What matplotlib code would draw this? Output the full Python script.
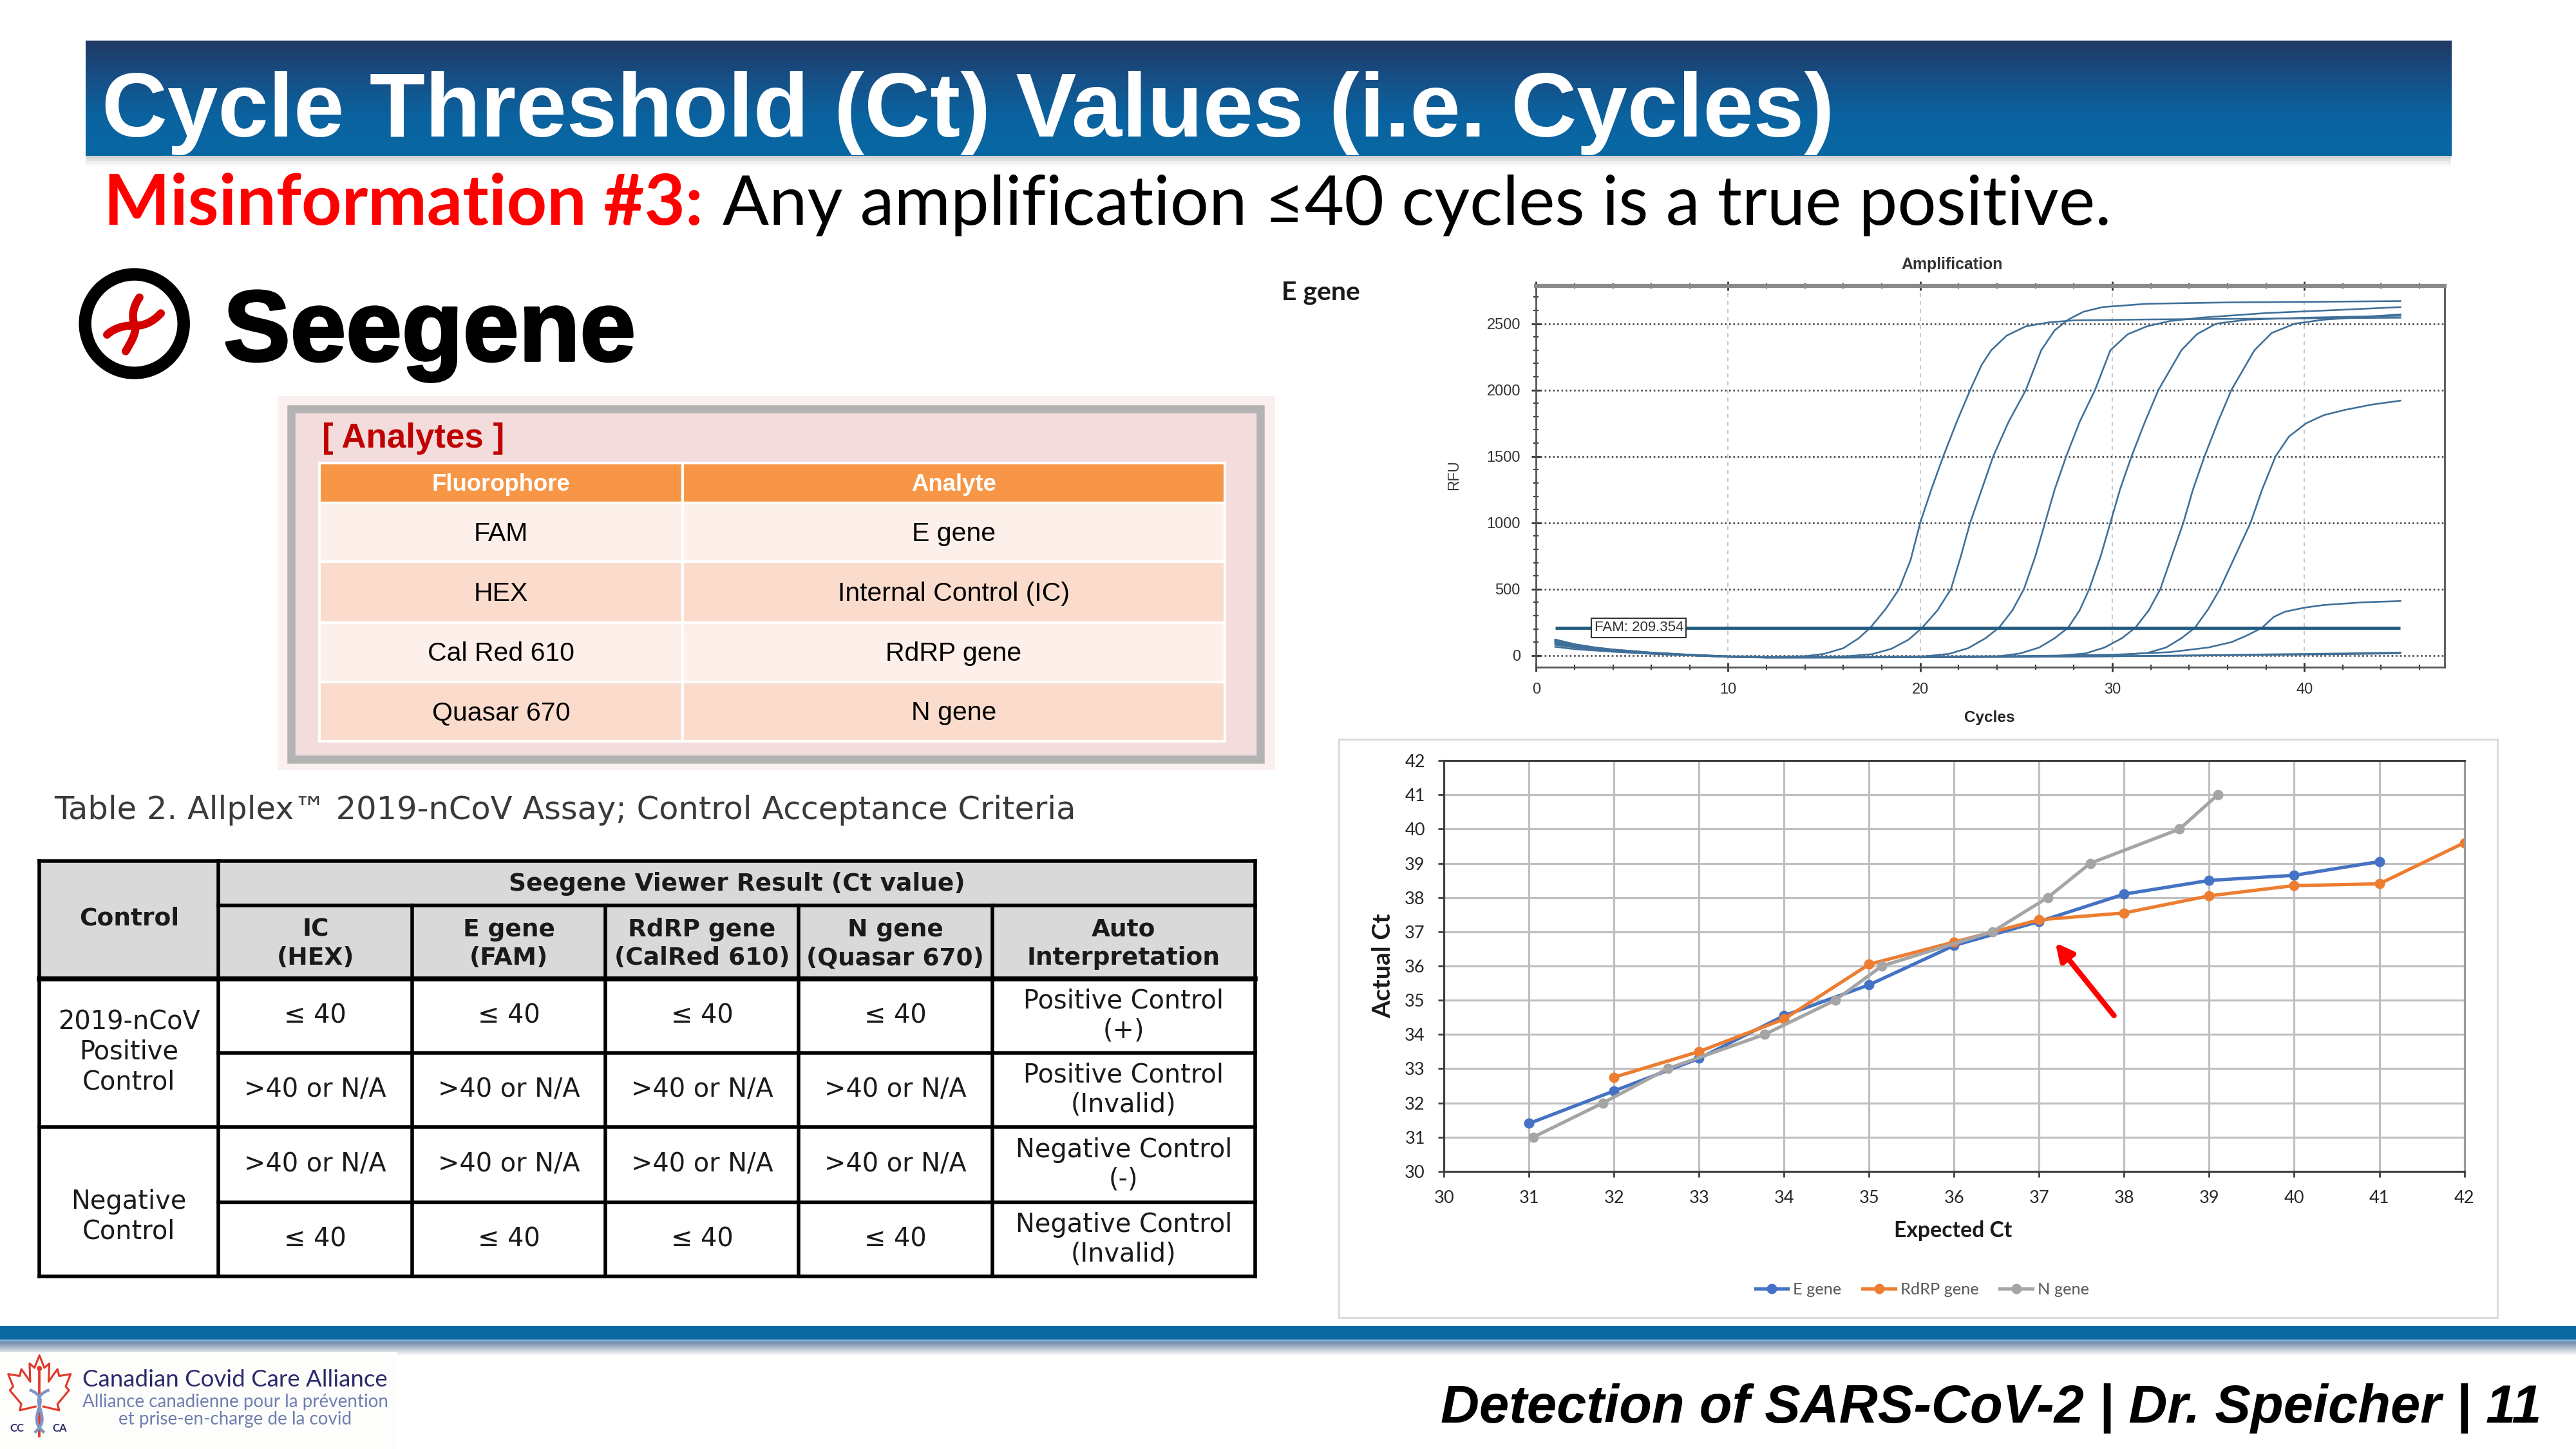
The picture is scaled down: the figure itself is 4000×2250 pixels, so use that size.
import numpy as np
import matplotlib
matplotlib.use("Agg")
import matplotlib.pyplot as plt
import matplotlib.patheffects as pe
from matplotlib.colors import LinearSegmentedColormap
from matplotlib.patches import Rectangle, Circle, PathPatch
from matplotlib.path import Path
from matplotlib.ticker import MultipleLocator

plt.rcParams["font.family"] = ["Lato", "DejaVu Sans"]

# ---------------- data ----------------
ANALYTE_HEAD = ["Fluorophore", "Analyte"]
FLUOROPHORES = ["FAM", "HEX", "Cal Red 610", "Quasar 670"]
ANALYTES = ["E gene", "Internal Control (IC)", "RdRP gene", "N gene"]

CTRL_TOP = "Seegene Viewer Result (Ct value)"
CTRL_COLS = ["IC\n(HEX)", "E gene\n(FAM)", "RdRP gene\n(CalRed 610)",
             "N gene\n(Quasar 670)", "Auto\nInterpretation"]
CTRL_GROUPS = ["2019-nCoV\nPositive\nControl", "Negative\nControl"]
CTRL_CT = [["≤ 40"] * 4, [">40 or N/A"] * 4, [">40 or N/A"] * 4, ["≤ 40"] * 4]
CTRL_INTERP = ["Positive Control\n(+)", "Positive Control\n(Invalid)",
               "Negative Control\n(-)", "Negative Control\n(Invalid)"]

# amplification traces: (cycle, RFU)
AMP_THRESHOLD = 209.354
AMP_1 = [(1, 120), (2, 85), (3, 62), (4, 45), (6, 22), (8, 6), (10, -6), (12, -12), (14, -6),
         (15, 12), (16, 55), (16.8, 130), (17.4, 209), (18.2, 350), (18.9, 500), (19.5, 720),
         (20.0, 1000), (20.6, 1260), (21.2, 1500), (21.9, 1760), (22.6, 2000), (23.2, 2190),
         (23.7, 2300), (24.5, 2410), (25.5, 2480), (26.7, 2510), (28, 2525), (32, 2532),
         (38, 2538), (45, 2545)]
AMP_2 = [(1, 105), (2, 75), (3, 55), (4, 40), (6, 18), (8, 3), (10, -8), (12, -13), (14, -12),
         (16, -8), (17.5, 10), (18.5, 50), (19.4, 120), (20.1, 209), (20.9, 340), (21.6, 500),
         (22.1, 740), (22.6, 1000), (23.2, 1250), (23.8, 1500), (24.6, 1760), (25.5, 2000),
         (26.3, 2300), (27.0, 2450), (27.7, 2530), (28.5, 2590), (29.5, 2625), (31.8, 2650),
         (36, 2660), (45, 2670)]
AMP_3 = [(1, 112), (2, 80), (3, 58), (4, 42), (6, 20), (8, 4), (10, -9), (12, -15), (16, -14),
         (20, -10), (21.5, 12), (22.5, 55), (23.4, 130), (24.1, 209), (24.8, 340), (25.4, 500),
         (26.0, 750), (26.5, 1000), (27.0, 1250), (27.6, 1500), (28.3, 1760), (29.1, 2000),
         (29.9, 2300), (30.8, 2420), (31.8, 2480), (33, 2520), (34.6, 2545), (38, 2580),
         (42, 2605), (45, 2625)]
AMP_4 = [(1, 100), (2, 72), (3, 52), (4, 38), (6, 17), (8, 2), (10, -10), (12, -15), (16, -15),
         (20, -13), (24, -8), (25.2, 15), (26.2, 60), (27.0, 130), (27.7, 209), (28.3, 340),
         (28.8, 500), (29.4, 750), (29.9, 1000), (30.4, 1250), (31.0, 1500), (31.7, 1760),
         (32.4, 2000), (33.6, 2300), (34.4, 2420), (35.4, 2500), (37, 2530), (40, 2545),
         (45, 2560)]
AMP_5 = [(1, 90), (2, 66), (3, 48), (4, 35), (6, 15), (8, 1), (10, -11), (12, -16), (16, -16),
         (22, -12), (27, -5), (28.6, 15), (29.6, 60), (30.5, 130), (31.2, 209), (31.9, 340),
         (32.5, 500), (33.1, 750), (33.7, 1000), (34.2, 1250), (34.8, 1500), (35.5, 1760),
         (36.2, 2000), (37.4, 2300), (38.3, 2430), (39.5, 2500), (41, 2530), (43, 2550),
         (45, 2570)]
AMP_6 = [(1, 115), (2, 82), (3, 60), (4, 44), (6, 21), (8, 5), (10, -7), (12, -13), (16, -13),
         (22, -10), (27, -4), (30, 0), (31.8, 18), (32.8, 60), (33.6, 130), (34.3, 209),
         (35.0, 350), (35.6, 500), (36.4, 750), (37.2, 1000), (37.8, 1250), (38.5, 1500),
         (39.2, 1650), (40.1, 1750), (41.0, 1810), (42.1, 1850), (43.5, 1890), (45, 1920)]
AMP_7 = [(1, 80), (2, 60), (4, 35), (6, 15), (8, 3), (10, -8), (12, -14), (16, -12), (20, -10),
         (25, -5), (30, 5), (33, 25), (35, 60), (36.2, 100), (37, 150), (37.8, 209), (38.4, 290),
         (39, 330), (40, 360), (41, 380), (43, 400), (45, 410)]
AMP_NEG_1 = [(1, 95), (2, 70), (4, 38), (6, 16), (8, 2), (10, -10), (12, -15), (16, -14),
             (22, -12), (28, -8), (34, 0), (38, 8), (42, 15), (45, 22)]
AMP_NEG_2 = [(1, 65), (2, 48), (4, 28), (6, 12), (8, 0), (10, -10), (14, -14), (20, -14),
             (26, -10), (32, -4), (38, 4), (42, 10), (45, 16)]
AMP_TRACES = [AMP_1, AMP_2, AMP_3, AMP_4, AMP_5, AMP_6, AMP_7, AMP_NEG_1, AMP_NEG_2]

# expected vs actual Ct
EXP_E = [31, 32, 33, 34, 35, 36, 37, 38, 39, 40, 41]
ACT_E = [31.4, 32.35, 33.3, 34.55, 35.45, 36.6, 37.3, 38.1, 38.5, 38.65, 39.05]
EXP_RDRP = [32, 33, 34, 35, 36, 37, 38, 39, 40, 41, 42]
ACT_RDRP = [32.75, 33.5, 34.45, 36.05, 36.7, 37.35, 37.55, 38.05, 38.35, 38.4, 39.6]
EXP_N = [31.05, 31.87, 32.63, 33.77, 34.6, 35.15, 36.45, 37.1, 37.6, 38.65, 39.1]
ACT_N = [31, 32, 33, 34, 35, 36, 37, 38, 39, 40, 41]

# ---------------- canvas ----------------
W, H = 1568, 882          # layout units of the slide
PX = 4000 / W

fig = plt.figure(figsize=(16, 9), dpi=250)
bg = fig.add_axes([0, 0, 1, 1])
bg.axis("off")
rend = fig.canvas.get_renderer()


def rect(x0, y0, x1, y1):
    return [x0 / W, 1 - y1 / H, (x1 - x0) / W, (y1 - y0) / H]


def fit(t, width, vertical=False):
    bb = t.get_window_extent(rend)
    cur = bb.height if vertical else bb.width
    t.set_fontsize(t.get_fontsize() * width * PX / cur)
    return t


# title bar
bar = LinearSegmentedColormap.from_list("bar", ["#1f3a63", "#165087", "#0a63a0", "#0868a3"])
bg.imshow(np.linspace(0, 1, 200)[:, None], cmap=bar, aspect="auto",
          extent=(52, 1492, 95, 25), zorder=1)
for i, a in enumerate([0.35, 0.22, 0.12, 0.05]):
    bg.add_patch(Rectangle((52, 95 + i * 1.5), 1440, 1.5, fc="#7f7f7f", ec="none", alpha=a))
t = bg.text(62, 83, "Cycle Threshold (Ct) Values (i.e. Cycles)", color="white", fontsize=40,
            fontweight="bold", family="Liberation Sans", va="baseline", zorder=3)
fit(t, 1055)

t = bg.text(63, 137, "Misinformation #3:", color="#ff0000", fontweight="bold", fontsize=34,
            va="baseline")
fit(t, 365)
t = bg.text(440, 137, "Any amplification ≤40 cycles is a true positive.", color="black",
            fontsize=34, va="baseline")
fit(t, 845)

# Seegene logo
cx, cy = 81.8, 197
bg.add_patch(Circle((cx, cy), 30, fill=False, ec="black", lw=5.6))
swirl_a = [(85.5, 178), (80, 186), (80, 193), (82, 198), (84, 203), (79, 211), (75.5, 217)]
swirl_b = [(101, 189.5), (95, 196), (88, 199), (81, 198.5), (74, 198), (66, 201), (62, 205)]
for pts in (swirl_a, swirl_b):
    pts = [(cx + 0.84 * (x - cx), cy + 0.84 * (y - cy)) for x, y in pts]
    p = Path(pts, [Path.MOVETO] + [Path.CURVE4] * 6)
    bg.add_patch(PathPatch(p, fill=False, ec="#d40000", lw=3.6, capstyle="round"))
t = bg.text(136, 219.5, "Seegene", fontsize=46, fontweight="bold", family="Liberation Sans",
            va="baseline", color="black",
            path_effects=[pe.withStroke(linewidth=1.1, foreground="black")])
fit(t, 251)

# analytes box
bg.add_patch(Rectangle((169, 241), 607, 228, fc="#faf0f0", ec="none"))
bg.add_patch(Rectangle((177, 249), 590, 213, fc="#f2dcdc", ec="#b3b3b3", lw=3.6))
t = bg.text(196, 267, "[ Analytes ]", color="#c00000", fontsize=12, fontweight="bold",
            family="Liberation Sans", va="center")
fit(t, 111)
a_cols = [194.5, 415.5, 745.5]
a_rows = [282, 306, 342, 379, 415, 451]
row_fc = ["#fdefe9", "#fbdccc"]
for j, head in enumerate(ANALYTE_HEAD):
    bg.add_patch(Rectangle((a_cols[j], a_rows[0]), a_cols[j + 1] - a_cols[j], a_rows[1] - a_rows[0],
                           fc="#f79646", ec="white", lw=1.2))
    bg.text((a_cols[j] + a_cols[j + 1]) / 2, (a_rows[0] + a_rows[1]) / 2 + 1, head, color="white",
            fontsize=10.5, fontweight="bold", family="Liberation Sans", ha="center", va="center")
for i, (fl, an) in enumerate(zip(FLUOROPHORES, ANALYTES)):
    for j, val in enumerate((fl, an)):
        bg.add_patch(Rectangle((a_cols[j], a_rows[i + 1]), a_cols[j + 1] - a_cols[j],
                               a_rows[i + 2] - a_rows[i + 1], fc=row_fc[i % 2], ec="white", lw=1.2))
        bg.text((a_cols[j] + a_cols[j + 1]) / 2, (a_rows[i + 1] + a_rows[i + 2]) / 2 + 1, val,
                fontsize=11.8, family="Liberation Sans", ha="center", va="center", color="black")

# control acceptance table
t = bg.text(33, 493, "Table 2. Allplex™ 2019-nCoV Assay; Control Acceptance Criteria",
            fontsize=13, family="DejaVu Sans", color="#3a3a3a", va="center")
fit(t, 622)
c_cols = [24, 133, 251, 368.5, 486, 604, 764]
c_rows = [524, 551, 596, 641, 686, 732, 777]
bg.add_patch(Rectangle((c_cols[0], c_rows[0]), c_cols[-1] - c_cols[0], c_rows[2] - c_rows[0],
                       fc="#d9d9d9", ec="none"))
lw_t = 1.6
bg.plot([c_cols[0], c_cols[-1]], [c_rows[0], c_rows[0]], color="black", lw=lw_t)
bg.plot([c_cols[1], c_cols[-1]], [c_rows[1], c_rows[1]], color="black", lw=lw_t)
bg.plot([c_cols[0], c_cols[-1]], [c_rows[2], c_rows[2]], color="black", lw=2.2)
for k in (3, 5):
    bg.plot([c_cols[1], c_cols[-1]], [c_rows[k], c_rows[k]], color="black", lw=lw_t)
bg.plot([c_cols[0], c_cols[-1]], [c_rows[4], c_rows[4]], color="black", lw=lw_t)
bg.plot([c_cols[0], c_cols[-1]], [c_rows[6], c_rows[6]], color="black", lw=lw_t)
bg.plot([c_cols[0], c_cols[0]], [c_rows[0], c_rows[-1]], color="black", lw=lw_t)
bg.plot([c_cols[1], c_cols[1]], [c_rows[0], c_rows[-1]], color="black", lw=lw_t)
bg.plot([c_cols[-1], c_cols[-1]], [c_rows[0], c_rows[-1]], color="black", lw=lw_t)
for x in c_cols[2:-1]:
    bg.plot([x, x], [c_rows[1], c_rows[-1]], color="black", lw=lw_t)

hdr = dict(fontsize=10.8, fontweight="bold", family="DejaVu Sans", ha="center", va="center",
           color="#1a1a1a", linespacing=1.25)
cell = dict(fontsize=11.5, family="DejaVu Sans", ha="center", va="center", color="#1a1a1a",
            linespacing=1.2)
bg.text((c_cols[1] + c_cols[-1]) / 2, (c_rows[0] + c_rows[1]) / 2 + 0.5, CTRL_TOP, **hdr)
bg.text((c_cols[0] + c_cols[1]) / 2, 559, "Control", **hdr)
for j, lab in enumerate(CTRL_COLS):
    bg.text((c_cols[j + 1] + c_cols[j + 2]) / 2, (c_rows[1] + c_rows[2]) / 2 + 1, lab, **hdr)
for g, lab in enumerate(CTRL_GROUPS):
    bg.text((c_cols[0] + c_cols[1]) / 2, (c_rows[2 + 2 * g] + c_rows[4 + 2 * g]) / 2 + (-0.5 if g == 0 else 9),
            lab, **cell)
for i, (cts, interp) in enumerate(zip(CTRL_CT, CTRL_INTERP)):
    yc = (c_rows[i + 2] + c_rows[i + 3]) / 2
    for j, val in enumerate(cts):
        bg.text((c_cols[j + 1] + c_cols[j + 2]) / 2, yc, val, **cell)
    bg.text((c_cols[5] + c_cols[6]) / 2, yc, interp, **cell)

# amplification plot
t = bg.text(780, 178, "E gene", fontsize=11, fontweight="bold", va="center", color="#1a1a1a")
fit(t, 48)
t = bg.text(1188, 161, "Amplification", fontsize=6.5, fontweight="bold", family="Liberation Sans",
            ha="center", va="center", color="#333333")
fit(t, 62)
bg.text(885, 289, "RFU", fontsize=6.5, family="Liberation Sans", rotation=90, ha="center",
        va="center", color="#333333")
bg.text(1211, 437, "Cycles", fontsize=7, fontweight="bold", family="Liberation Sans",
        ha="center", va="center", color="#222222")

ax1 = fig.add_axes(rect(935, 174, 1488, 406))
for pts in AMP_TRACES:
    cyc, rfu = zip(*pts)
    ax1.plot(cyc, rfu, color="#3f6f98", lw=0.75)
ax1.hlines(AMP_THRESHOLD, 1, 45, color="#235a80", lw=1.4)
ax1.text(5.35, AMP_THRESHOLD, f"FAM: {AMP_THRESHOLD:.3f}", fontsize=6.4, ha="center", va="center",
         family="Liberation Sans", color="#333333",
         bbox=dict(boxstyle="square,pad=0.2", fc="white", ec="#333333", lw=0.6))
ax1.set_xlim(0, 47.3)
ax1.set_ylim(-87, 2785)
ax1.set_xticks([0, 10, 20, 30, 40])
ax1.xaxis.set_minor_locator(MultipleLocator(2))
ax1.set_yticks(range(0, 2501, 500))
ax1.yaxis.set_minor_locator(MultipleLocator(100))
ax1.tick_params(which="both", direction="inout", labelsize=6.8, color="#333333",
                labelcolor="#333333", top=True)
ax1.tick_params(which="major", length=4, pad=5)
ax1.tick_params(which="minor", length=2.5)
for lab in ax1.get_xticklabels() + ax1.get_yticklabels():
    lab.set_family("Liberation Sans")
ax1.grid(axis="y", linestyle=(0, (1, 1.5)), color="#444444", lw=0.75)
ax1.grid(axis="x", linestyle=(0, (3, 3)), color="#c8c8c8", lw=0.6)
for s in ax1.spines.values():
    s.set_color("#555555")
    s.set_linewidth(0.8)
ax1.spines["top"].set_color("#8a8a8a")
ax1.spines["top"].set_linewidth(1.8)

# expected vs actual Ct chart
bg.add_patch(Rectangle((815, 450), 705, 352, fc="white", ec="#d9d9d9", lw=0.8))
ax2 = fig.add_axes(rect(879, 463, 1500, 713))
ax2.plot(EXP_E, ACT_E, "-o", color="#4472c4", lw=1.5, ms=3.6, label="E gene")
ax2.plot(EXP_RDRP, ACT_RDRP, "-o", color="#ed7d31", lw=1.5, ms=3.6, label="RdRP gene")
ax2.plot(EXP_N, ACT_N, "-o", color="#a5a5a5", lw=1.5, ms=3.6, label="N gene")
ax2.set_xlim(30, 42)
ax2.set_ylim(30, 42)
ax2.set_xticks(range(30, 43))
ax2.set_yticks(range(30, 43))
ax2.grid(True, color="#bfbfbf", lw=0.9)
ax2.set_axisbelow(True)
ax2.tick_params(labelsize=7.8, length=2.5, color="#404040", pad=6, labelcolor="#262626")
for s in ax2.spines.values():
    s.set_color("#404040")
    s.set_linewidth(0.9)
ax2.spines["right"].set_color("#9a9a9a")
ax2.annotate("", xy=(37.19, 36.68), xytext=(37.88, 34.55),
             arrowprops=dict(arrowstyle="-|>", color="#ff0000", lw=2.4, mutation_scale=16,
                             shrinkA=0, shrinkB=0))
t = bg.text(842, 588, "Actual Ct", fontsize=10, fontweight="bold", rotation=90,
            ha="center", va="center", color="#1a1a1a")
fit(t, 64, vertical=True)
t = bg.text(1189, 749, "Expected Ct", fontsize=9.5, fontweight="bold", ha="center",
            va="center", color="#1a1a1a")
fit(t, 72)
h, l = ax2.get_legend_handles_labels()
fig.legend(h, l, loc="center", bbox_to_anchor=(1170 / W, 1 - 785 / H), ncol=3, frameon=False,
           fontsize=7.3, labelcolor="#595959", handlelength=2.0, handletextpad=0.3,
           columnspacing=1.3)

# footer bands
bg.add_patch(Rectangle((0, 807), W, 9, fc="#0a69a0", ec="none"))
bg.add_patch(Rectangle((0, 815.5), W, 1.2, fc="#86b3dc", ec="none"))
fade = LinearSegmentedColormap.from_list("fade", ["#6c87a6", "#b7c3cf", "#ffffff"])
bg.imshow(np.linspace(0, 1, 100)[:, None], cmap=fade, aspect="auto",
          extent=(0, W, 825, 816.7), zorder=1)
t = bg.text(1547, 866, "Detection of SARS-CoV-2 | Dr. Speicher | 11", ha="right", va="baseline",
            fontsize=24, fontweight="bold", fontstyle="italic", family="Liberation Sans",
            color="black")
fit(t, 670)

# CCCA logo
bg.add_patch(Rectangle((0, 823), 242, 59, fc="#fdfdfb", ec="none", zorder=2))
leaf_r = [(0, 0), (0.15, 0.2), (0.3, 0.13), (0.28, 0.42), (0.55, 0.22), (0.6, 0.33),
          (0.95, 0.3), (0.8, 0.5), (0.9, 0.56), (0.55, 0.78), (0.6, 0.88), (0.12, 0.82)]
leaf = [(-u, v) for u, v in leaf_r[::-1]] + leaf_r[1:]
bg.plot([24 + 20 * u for u, v in leaf], [825 + 38 * v for u, v in leaf], color="#e0392b",
        lw=0.9, zorder=3)
bg.plot([24, 24], [833, 874], color="#e0392b", lw=1.1, zorder=3)
bg.add_patch(Circle((24, 833), 1.6, fc="#e0392b", ec="none", zorder=3))
for sgn in (1, -1):
    snake = Path([(24 + 6 * sgn, 846), (24 - 10 * sgn, 852), (24 + 10 * sgn, 862), (24 - 3 * sgn, 872)],
                 [Path.MOVETO, Path.CURVE4, Path.CURVE4, Path.CURVE4])
    bg.add_patch(PathPatch(snake, fill=False, ec="#7f95c4", lw=1.3, zorder=3))
bg.text(10.5, 871.5, "CC", fontsize=4.8, fontweight="bold", color="#2b2a6b", ha="center",
        va="baseline", zorder=4)
bg.text(36.5, 871.5, "CA", fontsize=4.8, fontweight="bold", color="#2b2a6b", ha="center",
        va="baseline", zorder=4)
t = bg.text(50, 844, "Canadian Covid Care Alliance", fontsize=8, color="#2b2a6b",
            va="baseline", zorder=4)
fit(t, 186)
t = bg.text(50, 856.5, "Alliance canadienne pour la prévention", fontsize=6.5, color="#6f7fb0",
            va="baseline", zorder=4)
fit(t, 186)
t = bg.text(143, 867, "et prise-en-charge de la covid", fontsize=6.5, color="#6f7fb0",
            ha="center", va="baseline", zorder=4)
fit(t, 142)

bg.set_xlim(0, W)
bg.set_ylim(H, 0)
fig.savefig("out.png", dpi=250, facecolor="white")
